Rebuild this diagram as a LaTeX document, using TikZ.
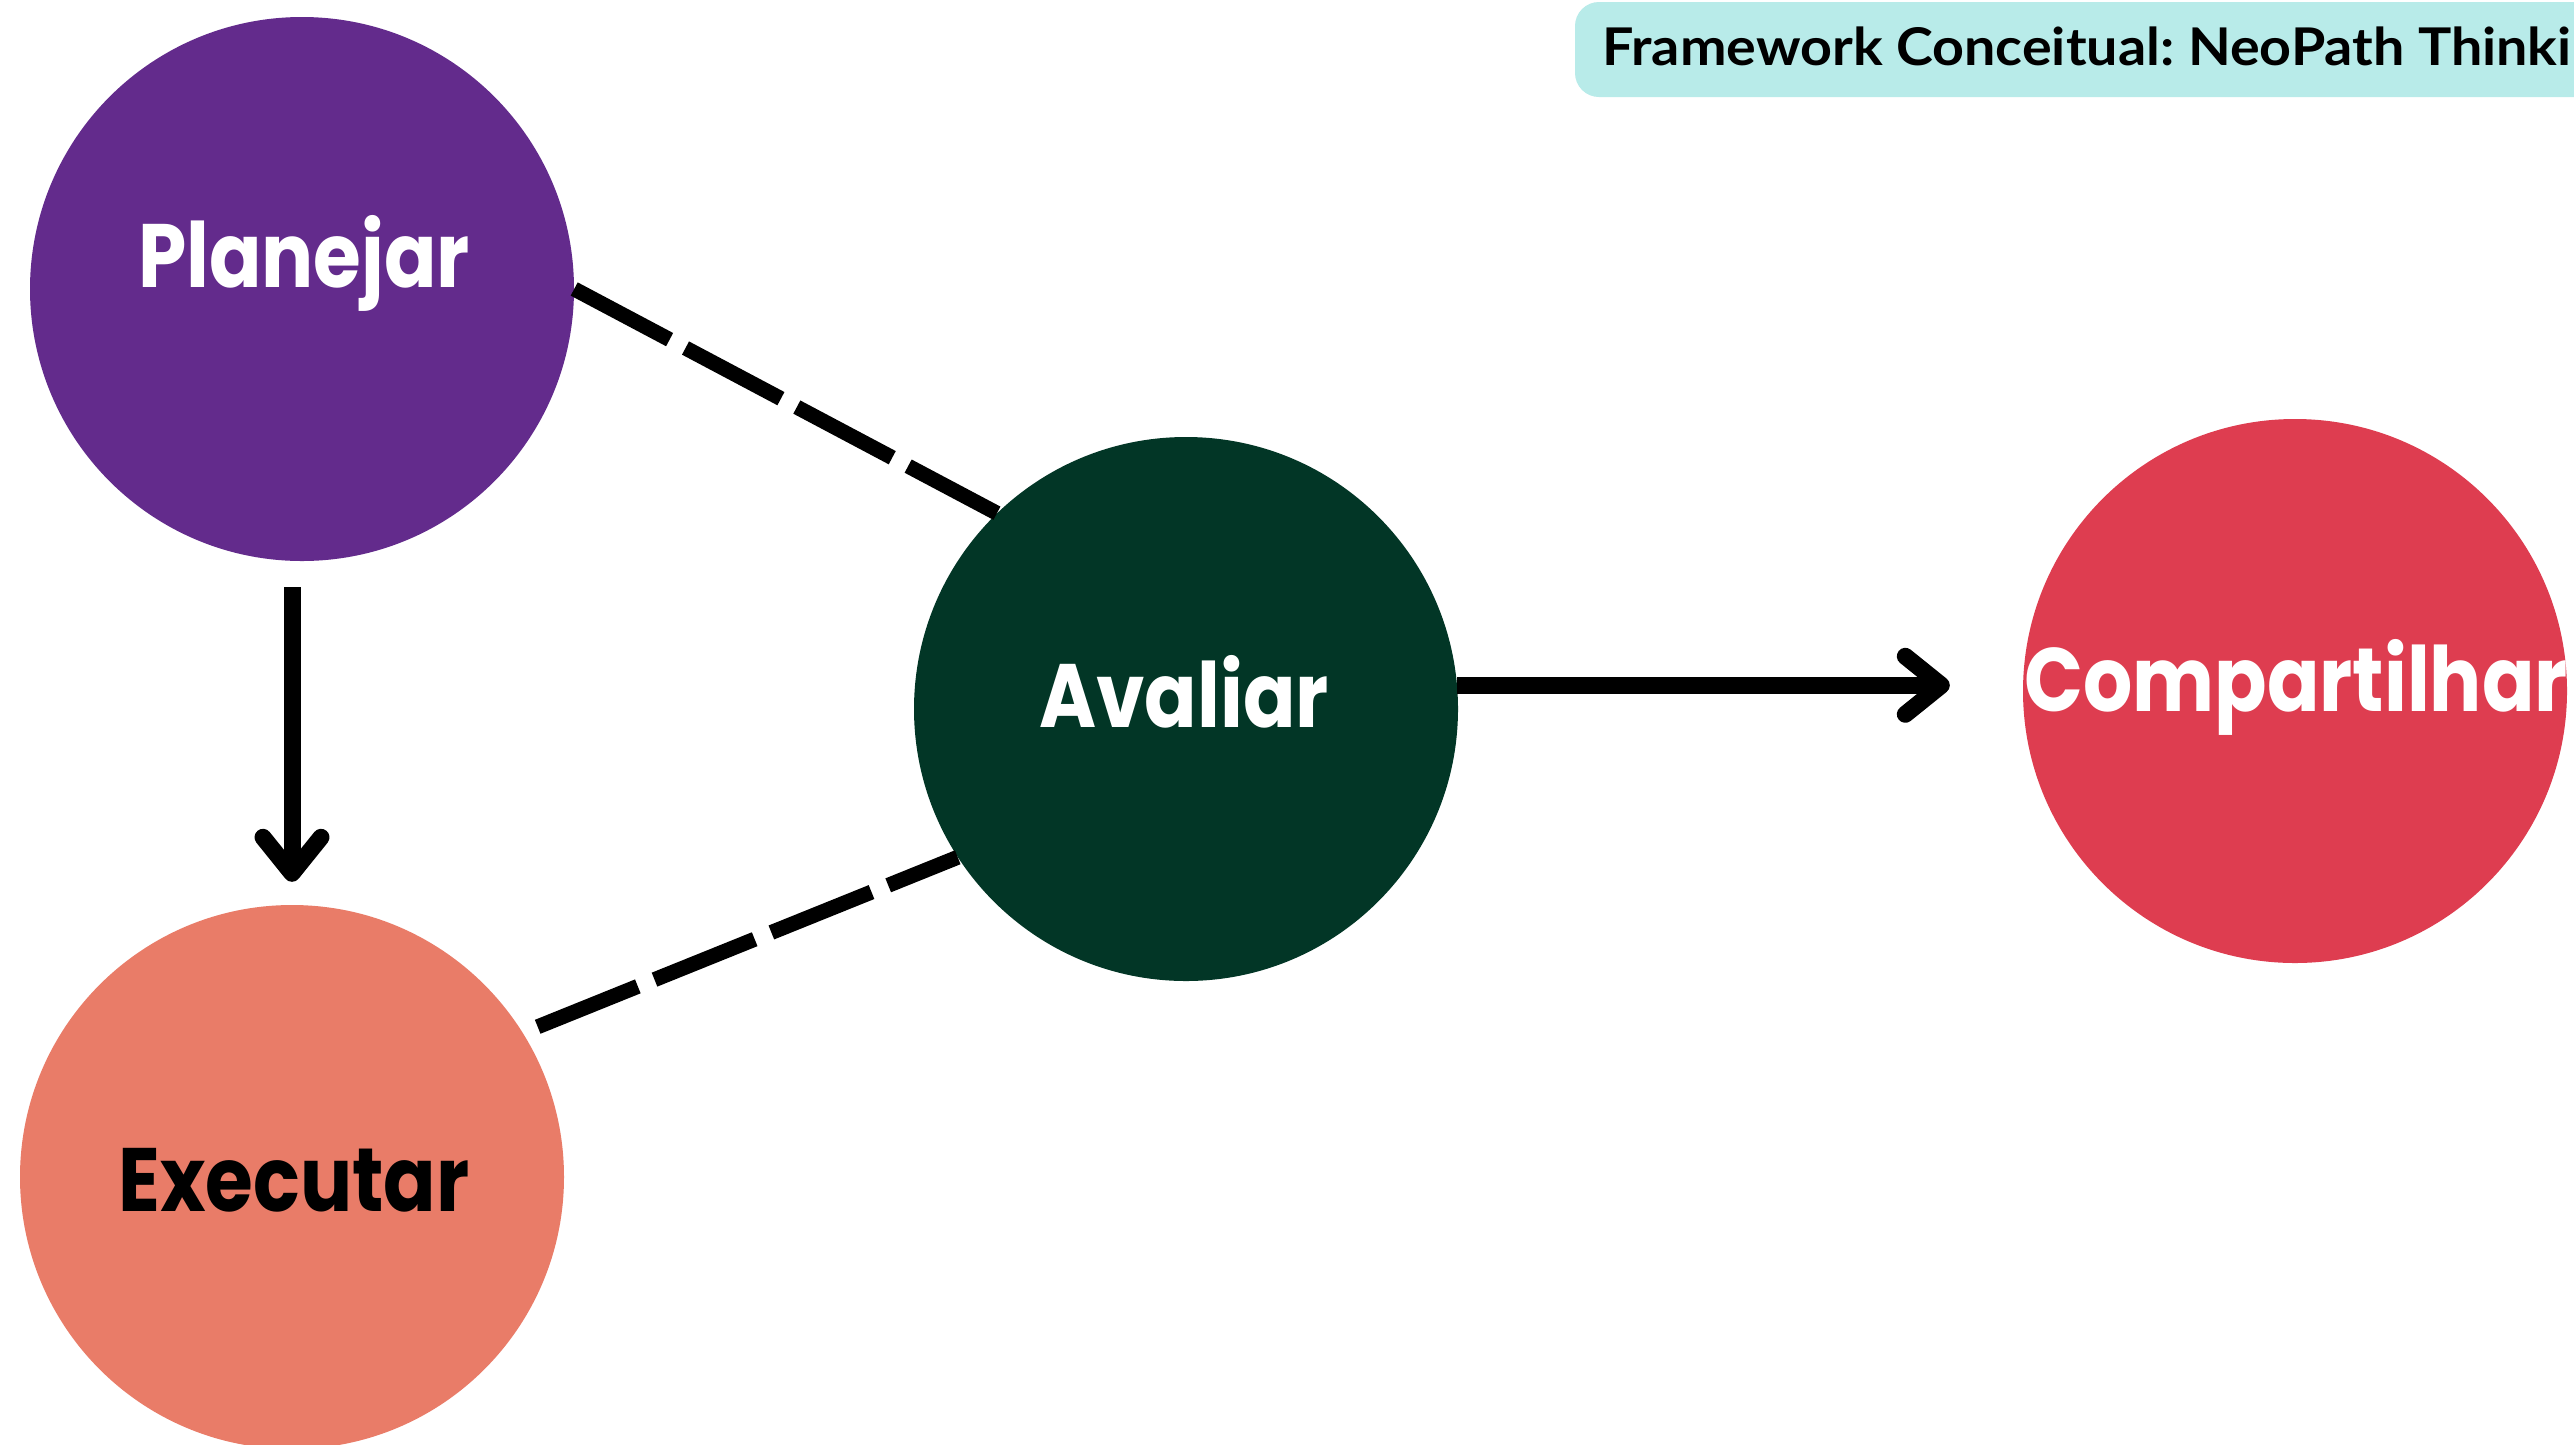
\documentclass[tikz,border=0pt]{standalone}
\usepackage{fontspec}
\usetikzlibrary{arrows.meta,calc}
\newfontfamily\labfont{Poppins}[FakeStretch=0.86]
\newfontfamily\titfont{Lato}[FakeStretch=1.07]
\definecolor{cplan}{RGB}{99,43,140}
\definecolor{caval}{RGB}{2,54,38}
\definecolor{ccomp}{RGB}{222,61,80}
\definecolor{cexec}{RGB}{233,124,104}
\definecolor{ctitle}{RGB}{184,235,233}
\tikzset{
  blob/.style={circle, minimum size=544pt, inner sep=0pt, draw=none},
  lab/.style={anchor=base, inner sep=0pt, font=\labfont\bfseries\fontsize{90}{100}\selectfont},
  flow/.style={line width=17pt, -{Straight Barb[length=36pt,width=58pt,round]}},
  dashlink/.style={line width=15pt, dash pattern=on 108pt off 18pt}
}
\begin{document}
\begin{tikzpicture}[x=1pt,y=-1pt]
\useasboundingbox (0,0) rectangle (2574,1444);
\clip (0,0) rectangle (2574,1444);
\fill[white] (0,0) rectangle (2574,1444);
% title
\node[fill=ctitle, rounded corners=24pt, minimum width=1060pt, minimum height=95pt, inner sep=0pt] (tbox) at (2105,49.5) {};
\node[anchor=base west, inner sep=0pt, font=\titfont\bfseries\fontsize{52}{60}\selectfont\frenchspacing] (title) at (1602,65) {Framework Conceitual: NeoPath Thinki};
% circles
\node[blob, fill=cplan] (pl) at (302,289) {};
\node[blob, fill=cexec] (ex) at (292,1177) {};
\node[blob, fill=caval] (av) at (1186,709) {};
\node[blob, fill=ccomp] (co) at (2295,691) {};
% labels
\node[lab, text=white] (plt) at (304,287) {Planejar};
\node[lab, text=black] (ext) at (294,1211) {Executar};
\node[lab, text=white] (avt) at (1184,727) {Avaliar};
\node[lab, text=white] (cot) at (2296,711) {Compartilhar};
% connectors
\draw[flow, shorten <=26pt, shorten >=23pt] (pl.south -| ex.north) -- (ex.north);
\draw[flow] (av.5.5) -- ([xshift=-73pt]av.5.5 -| co.west);
\draw[dashlink] (pl.east) -- (av.134);
\draw[dashlink, shorten <=16pt] (ex.32) -- (av.213);
\end{tikzpicture}
\end{document}
